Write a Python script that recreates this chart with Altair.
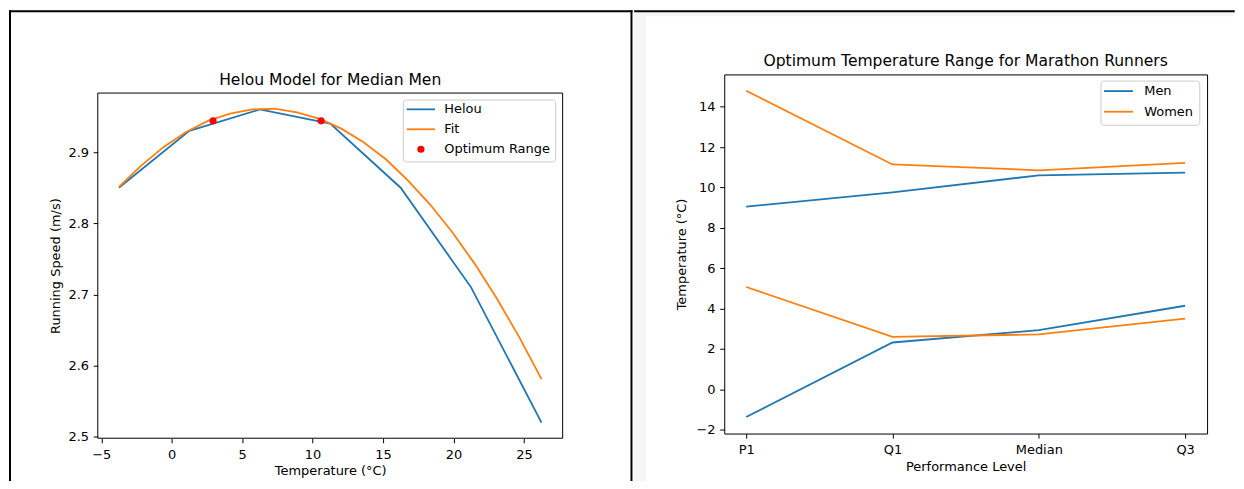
import altair as alt
import pandas as pd

# ---------------- data ----------------
# Left: Helou model for median men
helou_temp = [-3.75, 1.25, 6.25, 11.25, 16.25, 21.25, 26.25]
helou_speed = [2.85, 2.93, 2.96, 2.94, 2.85, 2.71, 2.52]
fit_temp = [-3.75, -2.17, -0.59, 0.99, 2.57, 4.14, 5.72, 7.30, 8.88, 10.46,
            12.04, 13.62, 15.20, 16.78, 18.36, 19.93, 21.51, 23.09, 24.67, 26.25]
fit_speed = [2.851, 2.881, 2.907, 2.928, 2.944, 2.954, 2.960, 2.961, 2.956, 2.947,
             2.933, 2.914, 2.890, 2.860, 2.826, 2.787, 2.743, 2.694, 2.640, 2.581]
opt_temp = [2.93, 10.6]
opt_speed = [2.944, 2.944]
left_x_ticks = [-5, 0, 5, 10, 15, 20, 25]
left_y_ticks = [2.5, 2.6, 2.7, 2.8, 2.9]
left_legend = ["Helou", "Fit", "Optimum Range"]
left_title = "Helou Model for Median Men"

# Right: optimum temperature range
levels = ["P1", "Q1", "Median", "Q3"]
men_low = [-1.37, 2.32, 2.93, 4.14]
men_high = [9.05, 9.76, 10.60, 10.74]
women_low = [5.07, 2.60, 2.72, 3.50]
women_high = [14.79, 11.14, 10.85, 11.22]
right_y_ticks = [-2, 0, 2, 4, 6, 8, 10, 12, 14]
groups = ["Men", "Women"]
right_title = "Optimum Temperature Range for Marathon Runners"

BLUE = "#1f77b4"
ORANGE = "#ff7f0e"
RED = "#ff0000"
FONT = "DejaVu Sans"
LINE_W = 1.8

one = pd.DataFrame({"k": [0]})


def rule(x, x2, y, y2, color="black", width=2):
    return alt.Chart(one).mark_rule(color=color, strokeWidth=width).encode(
        x=alt.value(x), x2=alt.value(x2), y=alt.value(y), y2=alt.value(y2))


def box(x, x2, y, y2, fill):
    return alt.Chart(one).mark_rect(fill=fill).encode(
        x=alt.value(x), x2=alt.value(x2), y=alt.value(y), y2=alt.value(y2))


def label(x, y, txt):
    return alt.Chart(one).mark_text(align="left", baseline="middle", fontSize=13,
                                    font=FONT, color="black").encode(
        x=alt.value(x), y=alt.value(y), text=alt.value(txt))


def title_text(x, y, txt):
    return alt.Chart(one).mark_text(align="center", baseline="alphabetic", fontSize=15.6,
                                    font=FONT, color="black").encode(
        x=alt.value(x), y=alt.value(y), text=alt.value(txt))


def legend_box(x, x2, y, y2):
    return alt.Chart(one).mark_rect(fill="white", stroke="#cccccc", strokeWidth=1,
                                    cornerRadius=3).encode(
        x=alt.value(x), x2=alt.value(x2), y=alt.value(y), y2=alt.value(y2))


# ---------------- left panel ----------------
# The left view starts at the same height as the right one; its plot box
# occupies the lower part (TOP .. LVH).
LW, LVH, TOP = 466, 364.7, 18.7
helou_df = pd.DataFrame({"temp": helou_temp, "speed": helou_speed})
fit_df = pd.DataFrame({"temp": fit_temp, "speed": fit_speed})
opt_df = pd.DataFrame({"temp": opt_temp, "speed": opt_speed})

xL = alt.X("temp:Q", scale=alt.Scale(domain=[-5.25, 27.75], nice=False, zero=False),
           axis=alt.Axis(values=left_x_ticks, format="d", title="Temperature (°C)"))
yL = alt.Y("speed:Q",
           scale=alt.Scale(domain=[2.498, 2.983], nice=False, zero=False, range=[LVH, TOP]),
           axis=alt.Axis(values=left_y_ticks, format=".1f", title="Running Speed (m/s)",
                         titleY=(TOP + LVH) / 2))

helou_line = alt.Chart(helou_df).mark_line(color=BLUE, strokeWidth=LINE_W).encode(x=xL, y=yL)
fit_line = alt.Chart(fit_df).mark_line(color=ORANGE, strokeWidth=LINE_W).encode(
    x="temp:Q", y="speed:Q")
opt_pts = alt.Chart(opt_df).mark_circle(color=RED, size=52, opacity=1).encode(
    x="temp:Q", y="speed:Q")

plot_box = alt.Chart(one).mark_rect(fillOpacity=0, stroke="black", strokeWidth=1).encode(
    x=alt.value(0), x2=alt.value(LW), y=alt.value(TOP), y2=alt.value(LVH))

leg_rows = [TOP + 16.3, TOP + 36.3, TOP + 56.3]
left_legend_items = [
    legend_box(306.3, 459, TOP + 7, TOP + 69),
    rule(309.7, 338, leg_rows[0], leg_rows[0], BLUE, LINE_W),
    rule(309.7, 338, leg_rows[1], leg_rows[1], ORANGE, LINE_W),
    alt.Chart(one).mark_circle(color=RED, size=52, opacity=1).encode(
        x=alt.value(323.9), y=alt.value(leg_rows[2])),
    label(347.3, leg_rows[0], left_legend[0]),
    label(347.3, leg_rows[1], left_legend[1]),
    label(347.3, leg_rows[2], left_legend[2]),
]

# figure frame lines (filled rects, so bounds are exact)
left_frame = [
    box(-89, 536, -64.3, -62.3, "black"),    # top frame line
    box(-89, -87, -64.3, 407.5, "black"),    # left frame line
    box(534, 536, -64.3, 407.5, "black"),    # middle divider
]

left = alt.layer(plot_box, helou_line, fit_line, opt_pts, *left_frame, *left_legend_items,
                 title_text(LW / 2, TOP - 8, left_title)).properties(
    width=LW, height=LVH, view=alt.ViewBackground(stroke="transparent"))

# ---------------- right panel ----------------
RW, RH = 484, 360
rows = []
for i, lvl in enumerate(levels):
    rows.append({"level": lvl, "temp": men_low[i], "group": "Men", "bound": "low"})
    rows.append({"level": lvl, "temp": men_high[i], "group": "Men", "bound": "high"})
    rows.append({"level": lvl, "temp": women_low[i], "group": "Women", "bound": "low"})
    rows.append({"level": lvl, "temp": women_high[i], "group": "Women", "bound": "high"})
right_df = pd.DataFrame(rows)

xR = alt.X("level:N", sort=levels, scale=alt.Scale(type="point", padding=0.15),
           axis=alt.Axis(title="Performance Level", labelAngle=0))
yR = alt.Y("temp:Q", scale=alt.Scale(domain=[-2.19, 15.6], nice=False, zero=False),
           axis=alt.Axis(values=right_y_ticks, format="d", title="Temperature (°C)",
                         titlePadding=7.5))
colR = alt.Color("group:N", scale=alt.Scale(domain=groups, range=[BLUE, ORANGE]),
                 legend=None)

right_lines = alt.Chart(right_df).mark_line(strokeWidth=LINE_W).encode(
    x=xR, y=yR, color=colR, detail="bound:N")

right_bg = [
    box(-90.3, -78.3, -62.3, 407.5, "#f5f5f5"),   # faint grey band (left)
    box(-78.3, 511.7, -62.3, -58.3, "#f5f5f5"),   # faint grey band (top)
    box(-90.3, 511.7, -64.3, -62.3, "black"),     # top frame line
]

r_rows = [16.7, 37.4]
right_legend_items = [
    legend_box(377.7, 476.7, 6.7, 51),
    rule(380.7, 409.7, r_rows[0], r_rows[0], BLUE, LINE_W),
    rule(380.7, 409.7, r_rows[1], r_rows[1], ORANGE, LINE_W),
    label(421, r_rows[0], groups[0]),
    label(421, r_rows[1], groups[1]),
]

right = alt.layer(*right_bg, right_lines, *right_legend_items,
                  title_text(RW / 2, -8, right_title)).properties(width=RW, height=RH)

chart = (
    alt.hconcat(left, right, spacing=0)
    .resolve_scale(color="independent")
    .properties(padding={"left": 0, "top": 1, "right": 0, "bottom": 0})
    .configure(font=FONT)
    .configure_view(stroke="black", strokeWidth=1)
    .configure_axis(labelFont=FONT, labelFontSize=13, labelColor="black",
                    titleFont=FONT, titleFontSize=13, titleFontWeight="normal",
                    titleColor="black", tickSize=4.6, tickColor="black", tickWidth=1,
                    domain=False, grid=False)
    .configure_axisX(labelPadding=5.4, titlePadding=3.6)
    .configure_axisY(labelPadding=4.6, titlePadding=5.5)
)

chart.save("out.html", embed_options={"renderer": "svg", "actions": False})
